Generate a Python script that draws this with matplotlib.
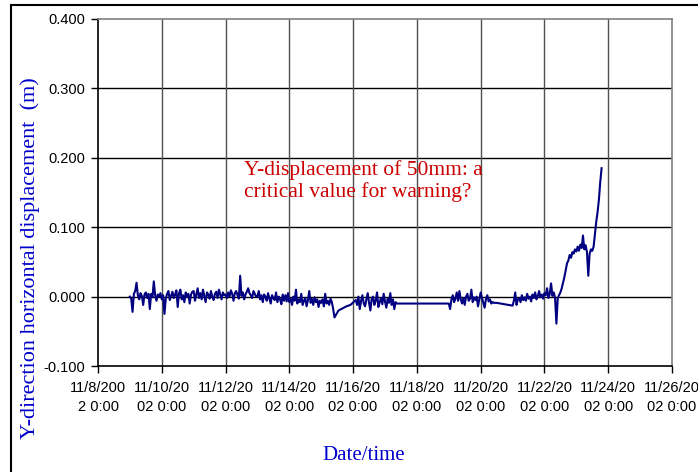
import matplotlib
matplotlib.use("Agg")
import matplotlib.pyplot as plt
import numpy as np
import pandas as pd

# readings: (start hour after 11/8/2002 0:00, step in hours, displacement in mm)
seg1_start, seg1_step = 24, 1
seg1_mm = [0, -3, -22, 4, 8, 20, 2, -4, 5, 1, -12, 3, 6, -2, 4, -18, 4, -1, 22, 2, -6, 3, 0, 5,
           -4, 2, -25, -3, 4, 8, -5, 1, 7, -2, 3, 9, -15, 5, 10, -4, 2, -8, 6, 0, 4, -10, 3, 7,
           8, -6, 3, 12, -2, 5, -4, 10, 1, -8, 6, 3, -3, 8, 0, -5, 4, 7, -2, 10, 3, -4, 6, 2,
           3, -2, 6, 0, 9, 4, -6, 5, 8, 2, -3, 30, 1, 6, -4, 3, 7, 12, 5, 2, -2, 8, 4, 0,
           0, 8, -4, 2, -8, 3, 0, -6, 5, -3, -10, 2, -2, -5, 6, -8, 0, -4, -11, 3, -6, 2, -7, 5,
           -8, -3, -12, 0, -6, 10, -10, -4, -8, 4, -12, -6, -2, -14, -5, 8, -9, -3, -12, -1, -8, -4, -15, -6,
           -9, -4, -14, 4, -10, -6, -12, -3, -8, -18, -30]
seg2_start, seg2_step = 181, 3
seg2_mm = [-20, -17, -14, -12]
seg3_start, seg3_step = 194, 1
seg3_mm = [-5, -12, 0, -18, -6, 2, -10, -14, -4, 5, -9, -20, -3, 0, -12, -6, 6,
           -15, -8, -2, -11, 4, -7, -16, -3, -9, 5, -12, -4, -18, -8, -10, -10]
seg4_start, seg4_step = 264, 1
seg4_mm = [-10, -18, -4, 2, -8, -3, 6, -6, 8, -4, -10, -2, -12, 0, 4, -6, -3, 10, -8,
           -1, -5, 0, -14, -4, 6, -2, -9, -16, -3, 2, -7, -4, -10, -8, -9, -9, -9]
seg5_start, seg5_step = 312, 1
seg5_mm = [-13, -6, 6, -12, -4, -2, -8, 2, -5, -1, -6, 4, -3, 0, -7, 3, -2,
           6, -4, 1, 8, -1, 3, -3, 5, 2, 12, -2, 4, 19, 1, 6, -2]
seg6_start, seg6_step = 345, 1
seg6_mm = [-39, -2, 2, 6, 12, 20, 28, 38, 48, 52, 60, 56, 64, 62, 68, 65, 72, 66,
           75, 70, 88, 68, 74, 64, 30, 62, 68, 66, 72, 90, 108, 122, 140, 165, 185]

segments = [(seg1_start, seg1_step, seg1_mm), (seg2_start, seg2_step, seg2_mm),
            (seg3_start, seg3_step, seg3_mm), (seg4_start, seg4_step, seg4_mm),
            (seg5_start, seg5_step, seg5_mm), (seg6_start, seg6_step, seg6_mm)]

hours = np.concatenate([s + st * np.arange(len(v)) for s, st, v in segments])
disp = np.concatenate([np.array(v, float) for _, _, v in segments]) / 1000.0

t0 = pd.Timestamp("2002-11-08 00:00")
times = t0 + pd.to_timedelta(hours, unit="h")

tick_dates = pd.date_range("2002-11-08", "2002-11-26", freq="2D")
tick_labels = []
for d in tick_dates:
    s = f"{d.month}/{d.day}/{d.year} 0:00"
    tick_labels.append(s[:8] + "\n" + s[8:].strip())
y_ticks = [-0.1, 0.0, 0.1, 0.2, 0.3, 0.4]

fig = plt.figure(figsize=(6.98, 4.72), dpi=100)
ax = fig.add_axes([98 / 698, 1 - 366 / 472, 574 / 698, 347 / 472])

ax.plot(times, disp, color="#000080", lw=1.5)

ax.set_xlim(tick_dates[0], tick_dates[-1])
ax.set_ylim(-0.1, 0.4)
ax.set_xticks(tick_dates)
ax.set_xticklabels(tick_labels, family="Liberation Sans", fontsize=10.5, linespacing=1.45)
ax.set_yticks(y_ticks)
ax.set_yticklabels([f"{v:.3f}" for v in y_ticks], family="Liberation Sans", fontsize=10.5)
ax.tick_params(axis="both", direction="out", length=5, width=1, color="black")
ax.tick_params(axis="x", pad=6)
ax.tick_params(axis="y", pad=4)

for v in y_ticks[1:-1]:
    ax.axhline(v, color="black", lw=1, zorder=0)
for d in tick_dates[1:-1]:
    ax.axvline(d, color="#505050", lw=1, zorder=0)

ax.spines["left"].set_color("black")
ax.spines["bottom"].set_color("black")
ax.spines["top"].set_color("#808080")
ax.spines["right"].set_color("#808080")
for sp in ax.spines.values():
    sp.set_linewidth(1.2)

fig.text(30 / 698, 1 - 258 / 472, "Y-direction horizontal displacement  (m)",
         rotation=90, ha="center", va="center", color="#0000CC",
         family="Liberation Serif", fontsize=16)
fig.text(364 / 698, 1 - 455 / 472, "Date/time", ha="center", va="center",
         color="#0000CC", family="Liberation Serif", fontsize=15)
fig.text(244 / 698, 1 - 160 / 472, "Y-displacement of 50mm: a\ncritical value for warning?",
         ha="left", va="top", color="#CC0000", family="Liberation Serif",
         fontsize=15.5, linespacing=1.15)

# outer frame (top and left edges visible)
fig.add_artist(plt.Line2D([11 / 698, 1], [1 - 4.5 / 472, 1 - 4.5 / 472], color="black", lw=1.5))
fig.add_artist(plt.Line2D([11 / 698, 11 / 698], [0, 1 - 4.5 / 472], color="black", lw=1.5))

fig.savefig("out.png", dpi=100)
